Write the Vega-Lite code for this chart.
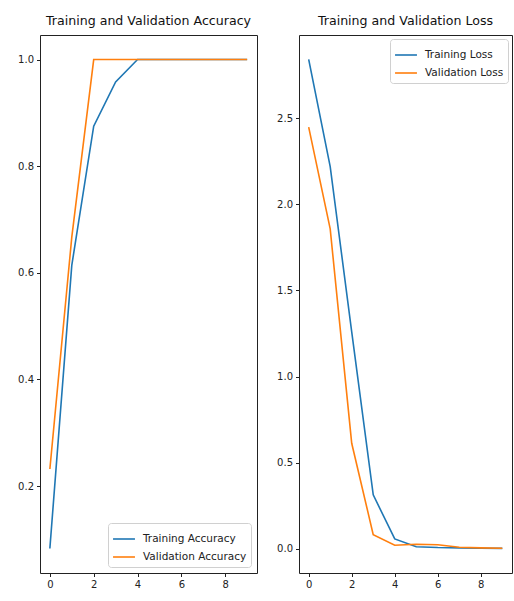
{
  "$schema": "https://vega.github.io/schema/vega-lite/v6.json",
  "padding": {"left": 17, "top": 14, "right": 1, "bottom": 8},
  "config": {
    "font": "DejaVu Sans",
    "view": {"stroke": "#222", "strokeWidth": 1},
    "axis": {"domain": false, "grid": false, "ticks": true, "tickSize": 3.5, "tickColor": "#222", "tickWidth": 1, "labelFontSize": 10, "labelColor": "#222", "labelPadding": 3, "labelFont": "DejaVu Sans"},
    "title": {"fontSize": 12.6, "fontWeight": "normal", "font": "DejaVu Sans", "color": "#111", "offset": 7},
    "legend": {"symbolType": "stroke", "symbolStrokeWidth": 1.6, "symbolSize": 480, "labelFontSize": 10.5, "labelColor": "#222", "labelFont": "DejaVu Sans", "fillColor": "rgba(255,255,255,0.8)", "strokeColor": "#d0d0d0", "cornerRadius": 3, "padding": 4, "rowPadding": 0, "labelOffset": 7, "offset": 6}
  },
  "datasets": {
    "acc": [
      {"epoch": 0, "series": "Training Accuracy", "value": 0.083},
      {"epoch": 1, "series": "Training Accuracy", "value": 0.614},
      {"epoch": 2, "series": "Training Accuracy", "value": 0.875},
      {"epoch": 3, "series": "Training Accuracy", "value": 0.958},
      {"epoch": 4, "series": "Training Accuracy", "value": 1.0},
      {"epoch": 5, "series": "Training Accuracy", "value": 1.0},
      {"epoch": 6, "series": "Training Accuracy", "value": 1.0},
      {"epoch": 7, "series": "Training Accuracy", "value": 1.0},
      {"epoch": 8, "series": "Training Accuracy", "value": 1.0},
      {"epoch": 9, "series": "Training Accuracy", "value": 1.0},
      {"epoch": 0, "series": "Validation Accuracy", "value": 0.232},
      {"epoch": 1, "series": "Validation Accuracy", "value": 0.667},
      {"epoch": 2, "series": "Validation Accuracy", "value": 1.0},
      {"epoch": 3, "series": "Validation Accuracy", "value": 1.0},
      {"epoch": 4, "series": "Validation Accuracy", "value": 1.0},
      {"epoch": 5, "series": "Validation Accuracy", "value": 1.0},
      {"epoch": 6, "series": "Validation Accuracy", "value": 1.0},
      {"epoch": 7, "series": "Validation Accuracy", "value": 1.0},
      {"epoch": 8, "series": "Validation Accuracy", "value": 1.0},
      {"epoch": 9, "series": "Validation Accuracy", "value": 1.0}
    ],
    "loss": [
      {"epoch": 0, "series": "Training Loss", "value": 2.843},
      {"epoch": 1, "series": "Training Loss", "value": 2.22},
      {"epoch": 2, "series": "Training Loss", "value": 1.26},
      {"epoch": 3, "series": "Training Loss", "value": 0.312},
      {"epoch": 4, "series": "Training Loss", "value": 0.056},
      {"epoch": 5, "series": "Training Loss", "value": 0.011},
      {"epoch": 6, "series": "Training Loss", "value": 0.006},
      {"epoch": 7, "series": "Training Loss", "value": 0.004},
      {"epoch": 8, "series": "Training Loss", "value": 0.002},
      {"epoch": 9, "series": "Training Loss", "value": 0.001},
      {"epoch": 0, "series": "Validation Loss", "value": 2.45},
      {"epoch": 1, "series": "Validation Loss", "value": 1.858},
      {"epoch": 2, "series": "Validation Loss", "value": 0.612},
      {"epoch": 3, "series": "Validation Loss", "value": 0.081},
      {"epoch": 4, "series": "Validation Loss", "value": 0.019},
      {"epoch": 5, "series": "Validation Loss", "value": 0.025},
      {"epoch": 6, "series": "Validation Loss", "value": 0.022},
      {"epoch": 7, "series": "Validation Loss", "value": 0.008},
      {"epoch": 8, "series": "Validation Loss", "value": 0.004},
      {"epoch": 9, "series": "Validation Loss", "value": 0.002}
    ]
  },
  "spacing": 18,
  "resolve": {"scale": {"color": "independent"}, "legend": {"color": "independent"}},
  "hconcat": [
    {
      "title": "Training and Validation Accuracy",
      "width": 217,
      "height": 538,
      "data": {"name": "acc"},
      "mark": {"type": "line", "strokeWidth": 1.6},
      "encoding": {
        "x": {"field": "epoch", "type": "quantitative", "scale": {"domain": [-0.45, 9.45], "nice": false, "zero": false}, "axis": {"values": [0, 2, 4, 6, 8], "title": null}},
        "y": {"field": "value", "type": "quantitative", "scale": {"domain": [0.037, 1.046], "nice": false, "zero": false}, "axis": {"values": [0.2, 0.4, 0.6, 0.8, 1.0], "format": ".1f", "title": null}},
        "color": {"field": "series", "type": "nominal", "scale": {"domain": ["Training Accuracy", "Validation Accuracy"], "range": ["#1f77b4", "#ff7f0e"]}, "legend": {"title": null, "orient": "bottom-right"}}
      }
    },
    {
      "title": "Training and Validation Loss",
      "width": 213,
      "height": 538,
      "data": {"name": "loss"},
      "mark": {"type": "line", "strokeWidth": 1.6},
      "encoding": {
        "x": {"field": "epoch", "type": "quantitative", "scale": {"domain": [-0.45, 9.45], "nice": false, "zero": false}, "axis": {"values": [0, 2, 4, 6, 8], "title": null}},
        "y": {"field": "value", "type": "quantitative", "scale": {"domain": [-0.142, 2.985], "nice": false, "zero": false}, "axis": {"values": [0, 0.5, 1.0, 1.5, 2.0, 2.5], "format": ".1f", "title": null}},
        "color": {"field": "series", "type": "nominal", "scale": {"domain": ["Training Loss", "Validation Loss"], "range": ["#1f77b4", "#ff7f0e"]}, "legend": {"title": null, "orient": "top-right", "offset": 4}}
      }
    }
  ]
}
